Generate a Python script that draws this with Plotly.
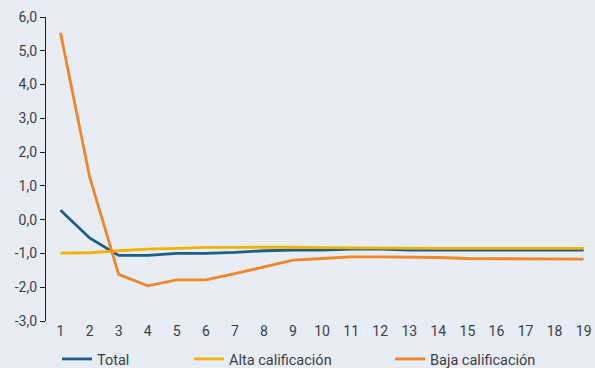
import plotly.graph_objects as go

periods = list(range(1, 20))
total = [0.28, -0.54, -1.06, -1.06, -1.0, -1.0, -0.97, -0.92, -0.9, -0.9,
         -0.87, -0.87, -0.9, -0.9, -0.9, -0.9, -0.9, -0.9, -0.9]
alta = [-0.99, -0.98, -0.92, -0.87, -0.85, -0.82, -0.82, -0.81, -0.81, -0.83,
        -0.84, -0.84, -0.85, -0.85, -0.85, -0.85, -0.85, -0.85, -0.85]
baja = [5.53, 1.27, -1.62, -1.96, -1.78, -1.78, -1.6, -1.4, -1.2, -1.15,
        -1.1, -1.1, -1.1, -1.12, -1.15, -1.15, -1.17, -1.17, -1.17]
names = ["Total", "Alta calificación", "Baja calificación"]
colors = ["rgb(27,94,140)", "rgb(240,180,0)", "rgb(239,135,40)"]
y_ticks = [-3, -2, -1, 0, 1, 2, 3, 4, 5, 6]
y_tick_labels = ["-3,0", "-2,0", "-1,0", "0,0", "1,0", "2,0", "3,0", "4,0", "5,0", "6,0"]

BG = "rgb(232,236,245)"
FONT = "Roboto"
TXT = "#3a3f47"

fig = go.Figure()
series = [total, alta, baja]
legends = ["legend", "legend2", "legend3"]
for i in [0, 1, 2]:
    fig.add_trace(go.Scatter(
        x=periods, y=series[i], mode="lines", name=names[i],
        line=dict(color=colors[i], width=2.8),
        legend=legends[i], showlegend=True,
    ))

xr = [0.5, 19.39]
leg_common = dict(orientation="h", xref="container", yref="container",
                  y=1 - 359 / 368, yanchor="middle", xanchor="left",
                  bgcolor="rgba(0,0,0,0)", font=dict(family=FONT, size=14.5, color=TXT))

fig.update_layout(
    width=595, height=368,
    margin=dict(l=46, r=0, t=17, b=47, autoexpand=False),
    paper_bgcolor=BG, plot_bgcolor=BG,
    separators=",.",
    font=dict(family=FONT, size=14, color=TXT),
    xaxis=dict(range=xr, tickvals=periods, ticktext=[str(p) for p in periods],
               showline=False, showgrid=False, zeroline=False, ticks="",
               automargin=False,
               tickfont=dict(family=FONT, size=14, color=TXT)),
    xaxis2=dict(range=xr, overlaying="x", anchor="free", position=1/3,
                side="bottom", showline=True, linecolor="#1e1e1e", linewidth=1.2,
                ticks="inside", ticklen=4, tickcolor="#1e1e1e", tickwidth=1,
                tickvals=[p + 0.5 for p in periods[:-1]], showticklabels=False,
                showgrid=False, zeroline=False, automargin=False),
    yaxis=dict(range=[-3, 6], tickvals=y_ticks, ticktext=y_tick_labels,
               showline=True, linecolor="#1e1e1e", linewidth=1.2,
               ticks="outside", ticklen=5, tickcolor="#1e1e1e",
               showgrid=False, zeroline=False, automargin=False,
               tickfont=dict(family=FONT, size=14, color=TXT)),
    legend=dict(x=57 / 595, **leg_common),
    legend2=dict(x=189 / 595, **leg_common),
    legend3=dict(x=390 / 595, **leg_common),
)

fig.write_html(
    "out.html",
    config={"displayModeBar": False},
    post_script="document.body.style.margin='0';document.body.style.background='rgb(232,236,245)';",
)
